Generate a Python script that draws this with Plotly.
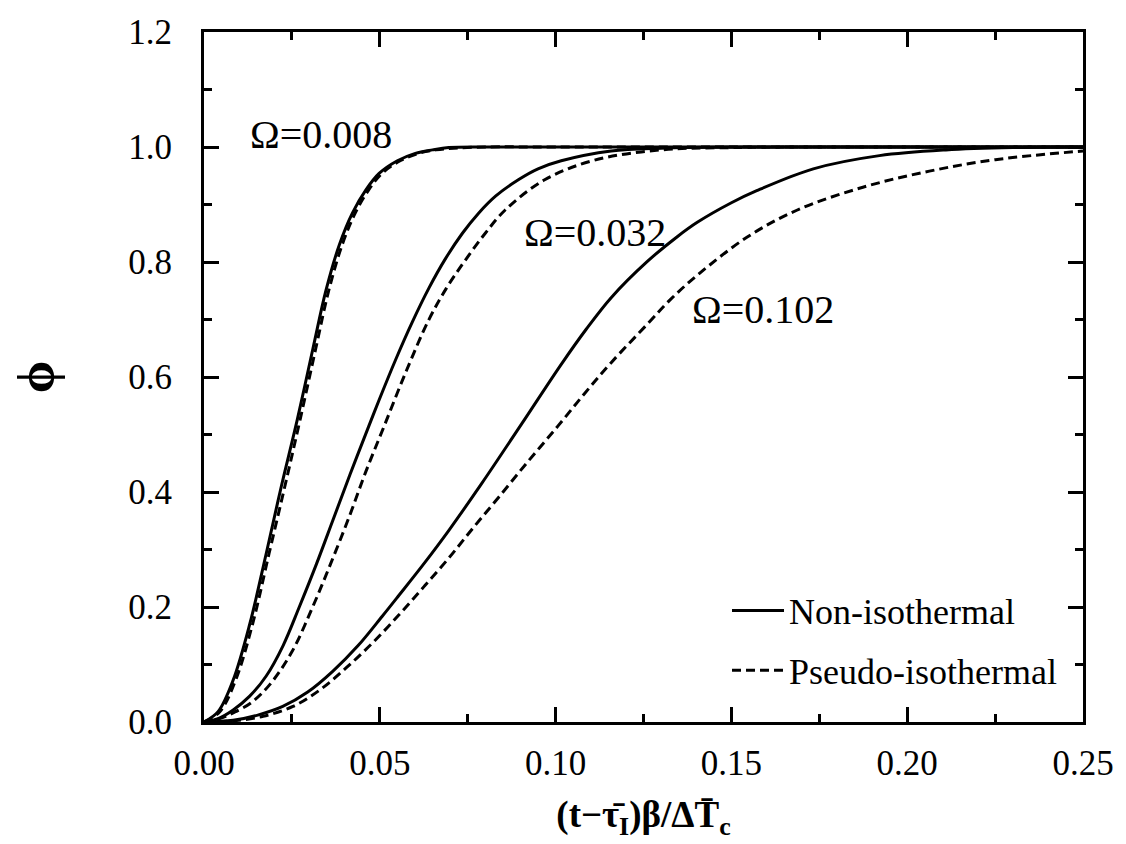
import plotly.graph_objects as go

# ---- data ----
x_008_non = [0, 0.004, 0.0083, 0.013, 0.0177, 0.022, 0.0265, 0.031, 0.0347, 0.0385, 0.0422, 0.046, 0.0498, 0.055, 0.0601, 0.065, 0.0696, 0.08, 0.10, 0.15, 0.20, 0.25]
y_008_non = [0, 0.018, 0.073, 0.17, 0.293, 0.41, 0.525, 0.65, 0.751, 0.83, 0.885, 0.925, 0.954, 0.976, 0.989, 0.995, 0.999, 1.0, 1.0, 1.0, 1.0, 1.0]
x_008_pse = [0, 0.0045, 0.009, 0.0138, 0.0185, 0.023, 0.0273, 0.0318, 0.0355, 0.0393, 0.043, 0.0468, 0.0506, 0.0558, 0.061, 0.066, 0.071, 0.08, 0.10, 0.15, 0.20, 0.25]
y_008_pse = [0, 0.018, 0.073, 0.17, 0.293, 0.41, 0.525, 0.65, 0.751, 0.83, 0.885, 0.925, 0.954, 0.976, 0.989, 0.995, 0.998, 1.0, 1.0, 1.0, 1.0, 1.0]

x_032_non = [0, 0.004, 0.0083, 0.013, 0.0177, 0.0225, 0.0271, 0.032, 0.0366, 0.0415, 0.0469, 0.0498, 0.0545, 0.0592, 0.064, 0.0686, 0.0735, 0.0781, 0.083, 0.0894, 0.095, 0.1016, 0.1158, 0.13, 0.15, 0.20, 0.25]
y_032_non = [0, 0.006, 0.021, 0.045, 0.08, 0.133, 0.2, 0.275, 0.35, 0.43, 0.515, 0.56, 0.63, 0.695, 0.755, 0.805, 0.85, 0.885, 0.915, 0.943, 0.962, 0.976, 0.993, 0.998, 1.0, 1.0, 1.0]
x_032_pse = [0, 0.004, 0.0083, 0.0135, 0.0187, 0.025, 0.0309, 0.036, 0.0413, 0.046, 0.0512, 0.0575, 0.0639, 0.069, 0.0743, 0.08, 0.0856, 0.0969, 0.111, 0.13, 0.15, 0.20, 0.25]
y_032_pse = [0, 0.005, 0.016, 0.034, 0.065, 0.122, 0.2, 0.275, 0.357, 0.435, 0.514, 0.61, 0.699, 0.755, 0.803, 0.85, 0.89, 0.943, 0.977, 0.995, 0.999, 1.0, 1.0]

x_102_non = [0, 0.0083, 0.0153, 0.0224, 0.0295, 0.0366, 0.0437, 0.0507, 0.0554, 0.0625, 0.0696, 0.079, 0.0903, 0.1016, 0.1087, 0.1158, 0.1261, 0.1346, 0.1403, 0.15, 0.1572, 0.1733, 0.1921, 0.211, 0.23, 0.25]
y_102_non = [0, 0.003, 0.012, 0.027, 0.052, 0.088, 0.132, 0.184, 0.22, 0.275, 0.333, 0.415, 0.518, 0.622, 0.683, 0.738, 0.801, 0.844, 0.869, 0.903, 0.924, 0.962, 0.985, 0.995, 0.999, 1.0]
x_102_pse = [0, 0.0083, 0.0168, 0.0253, 0.033, 0.0404, 0.048, 0.0554, 0.0625, 0.0696, 0.0766, 0.0837, 0.092, 0.1007, 0.1082, 0.1158, 0.1261, 0.1327, 0.1403, 0.1544, 0.1686, 0.1874, 0.2063, 0.2251, 0.25]
y_102_pse = [0, 0.002, 0.01, 0.027, 0.056, 0.094, 0.138, 0.186, 0.235, 0.285, 0.338, 0.39, 0.452, 0.515, 0.571, 0.625, 0.692, 0.735, 0.777, 0.843, 0.89, 0.93, 0.958, 0.978, 0.993]

omega_labels = ["Ω=0.008", "Ω=0.032", "Ω=0.102"]
omega_label_x = [0.0334, 0.1111, 0.159]
omega_label_y = [1.021, 0.852, 0.717]

series_names = ["Non-isothermal", "Pseudo-isothermal"]

FONT = "Liberation Serif"
fig = go.Figure()

curves = [
    (x_008_non, y_008_non, 0), (x_008_pse, y_008_pse, 1),
    (x_032_non, y_032_non, 0), (x_032_pse, y_032_pse, 1),
    (x_102_non, y_102_non, 0), (x_102_pse, y_102_pse, 1),
]
shown = set()
for xs, ys, kind in curves:
    fig.add_trace(go.Scatter(
        x=xs, y=ys, mode="lines", line_shape="spline",
        line=dict(color="black", width=3, dash="solid" if kind == 0 else "9px,5px"),
        name=series_names[kind], legendgroup=series_names[kind],
        showlegend=kind not in shown,
    ))
    shown.add(kind)

for t, ax_, ay_ in zip(omega_labels, omega_label_x, omega_label_y):
    fig.add_annotation(x=ax_, y=ay_, text=t, showarrow=False,
                       font=dict(family=FONT, size=40, color="black"))

axis_common = dict(
    showline=True, linewidth=3, linecolor="black", mirror="ticks",
    ticks="inside", ticklen=15, tickwidth=2.5, tickcolor="black",
    showgrid=False, zeroline=False,
    tickfont=dict(family=FONT, size=35, color="black"),
)

fig.update_xaxes(range=[0, 0.25], dtick=0.05, tickformat=".2f",
                 minor=dict(dtick=0.025, ticks="inside", ticklen=8, tickwidth=2.5, tickcolor="black"),
                 title=dict(text="<b>(t−τ̄<sub>I</sub>)β/ΔT̄<sub>c</sub></b>",
                            font=dict(family=FONT, size=37, color="black"), standoff=20),
                 ticklabelstandoff=8,
                 **axis_common)
fig.update_yaxes(range=[0, 1.2], dtick=0.2, tickformat=".1f",
                 minor=dict(dtick=0.1, ticks="inside", ticklen=8, tickwidth=2.5, tickcolor="black"),
                 title=dict(text="<b>ϕ</b>", font=dict(family=FONT, size=52, color="black"), standoff=58),
                 ticklabelstandoff=22,
                 **axis_common)

fig.update_layout(
    width=1126, height=844,
    margin=dict(l=204, r=38, t=32, b=122),
    plot_bgcolor="white", paper_bgcolor="white",
    legend=dict(x=0.595, y=0.205, xanchor="left", yanchor="top",
                bgcolor="rgba(0,0,0,0)", font=dict(family=FONT, size=36, color="black"),
                itemwidth=52, tracegroupgap=10),
)

fig.write_html("out.html")
